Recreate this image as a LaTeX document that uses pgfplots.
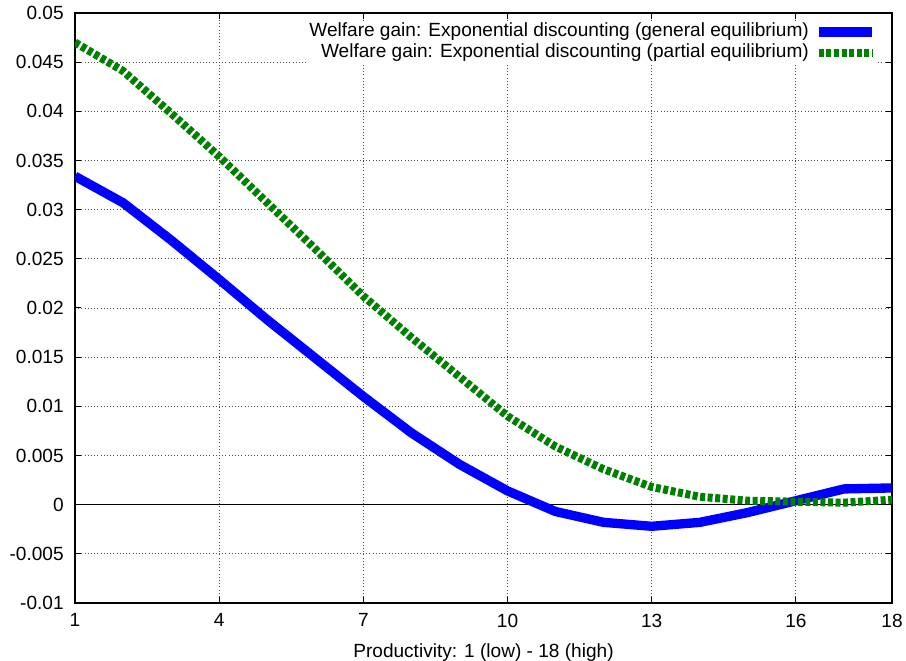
\documentclass[border=0pt]{standalone}
\usepackage{fontspec}
\setmainfont{Liberation Sans}
\usepackage{pgfplots}
\pgfplotsset{compat=1.18}
\definecolor{gpblue}{RGB}{0,0,255}
\definecolor{gpgreen}{RGB}{0,128,0}
\begin{document}
\begin{tikzpicture}
\begin{axis}[
  name=ax,
  scale only axis,
  width=612.75pt, height=442.5pt,
  xmin=1, xmax=18, ymin=-0.01, ymax=0.05,
  xtick={1,4,7,10,13,16,18},
  ytick={-0.01,-0.005,0,0.005,0.01,0.015,0.02,0.025,0.03,0.035,0.04,0.045,0.05},
  scaled y ticks=false,
  yticklabel style={/pgf/number format/fixed, /pgf/number format/precision=3, xshift=-5pt},
  xticklabel style={yshift=-4.5pt},
  /pgf/number format/assume math mode=true,
  font=\fontsize{14.3pt}{16pt}\selectfont,
  tick label style={font=\fontsize{14.3pt}{16pt}\selectfont},
  tick align=inside,
  major tick length=4.5pt,
  axis line style={black, line width=0.9pt},
  every tick/.style={black, line width=0.75pt},
  grid=major,
  grid style={dotted, black!70, line width=0.6pt},
  extra y ticks={0},
  extra y tick labels={},
  extra y tick style={grid style={solid, black, line width=0.75pt}, major tick length=0pt},
  xlabel={Productivity: 1 (low) - 18 (high)},
  xlabel style={yshift=-5.5pt},
  legend plot pos=right,
  legend cell align=right,
  legend style={at={(axis description cs:0.9835,0.986)}, anchor=north east,
    draw=none, fill=white, inner sep=1pt, column sep=4pt, row sep=2pt,
    font=\fontsize{14.3pt}{16pt}\selectfont,
    nodes={inner sep=0pt, text height=10.5pt, text depth=3pt}},
  legend image code/.code={\draw[#1] (0pt,0pt) -- (40pt,0pt);},
]
\addplot[gpblue, line width=7pt, line join=round] coordinates {
(1,0.0334) (2,0.0307) (3,0.0269) (4,0.0229) (5,0.0188) (6,0.0149)
(7,0.0110) (8,0.0073) (9,0.0041) (10,0.0014) (11,-0.0007) (12,-0.0018)
(13,-0.0022) (14,-0.0018) (15,-0.0008) (16,0.0004) (17,0.0016) (18,0.0017)
};
\addlegendentry{Welfare gain: Exponential discounting (general equilibrium)}
\addplot[gpgreen, line width=6pt, dash pattern=on 3.75pt off 1.9pt] coordinates {
(1,0.0470) (2,0.0441) (3,0.0398) (4,0.0354) (5,0.0307) (6,0.0260)
(7,0.0212) (8,0.0170) (9,0.0130) (10,0.0090) (11,0.0059) (12,0.0036)
(13,0.0018) (14,0.0008) (15,0.0004) (16,0.0003) (17,0.0002) (18,0.0005)
};
\addlegendentry{Welfare gain: Exponential discounting (partial equilibrium)}
\end{axis}
\pgfresetboundingbox
\path ([xshift=-56.25pt, yshift=-43.5pt]ax.south west) rectangle ([xshift=10.5pt, yshift=9.75pt]ax.north east);
\end{tikzpicture}
\end{document}
